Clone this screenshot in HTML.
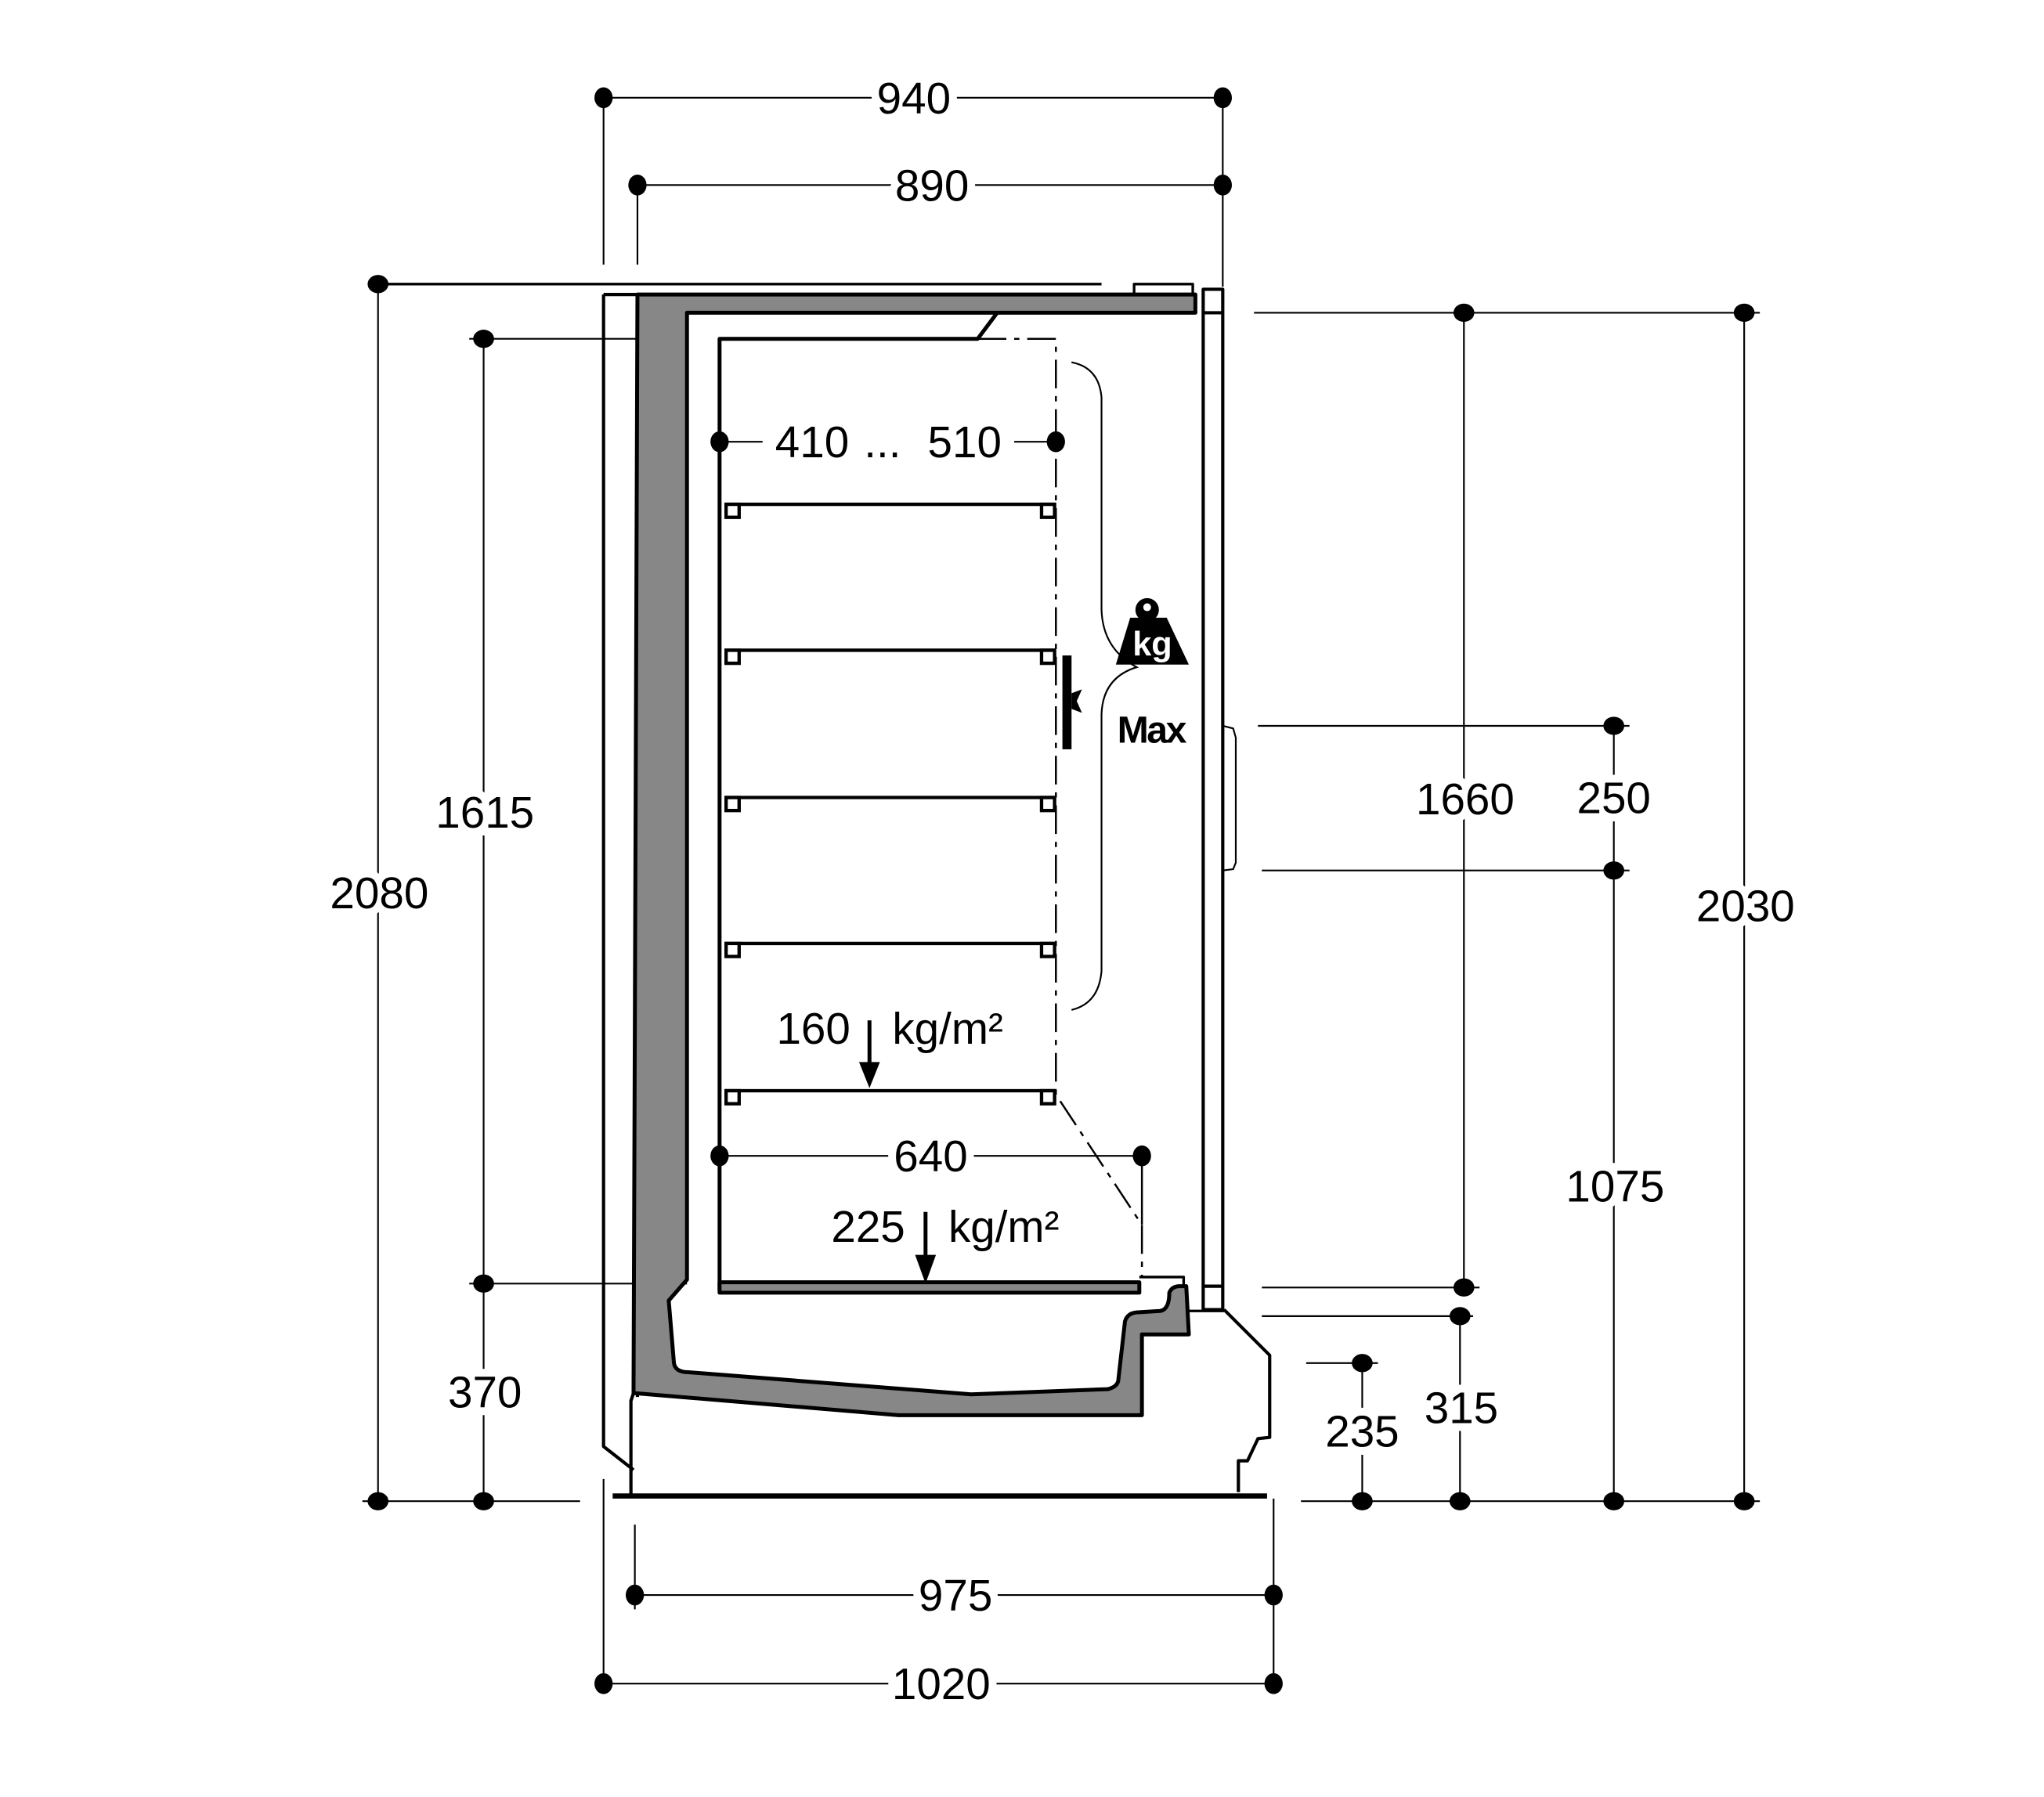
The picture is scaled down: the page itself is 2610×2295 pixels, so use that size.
<!DOCTYPE html>
<html><head><meta charset="utf-8"><style>html,body{margin:0;padding:0;background:#fff}svg{display:block}</style></head><body>
<svg width="2610" height="2295" viewBox="0 0 1568 1379" preserveAspectRatio="none" xmlns="http://www.w3.org/2000/svg">
<rect width="1568" height="1379" fill="#fff"/>
<g stroke="#000" fill="none" stroke-width="1.3">
<line x1="463" y1="75" x2="938" y2="75"/><line x1="463" y1="75" x2="463" y2="203"/><line x1="938" y1="75" x2="938" y2="220"/>
<line x1="489" y1="142" x2="938" y2="142"/><line x1="489" y1="142" x2="489" y2="203"/>
<line x1="290" y1="218" x2="845" y2="218" stroke-width="2"/>
<line x1="290" y1="218" x2="290" y2="1152"/>
<line x1="371" y1="260" x2="371" y2="1152"/>
<line x1="360" y1="260" x2="527" y2="260"/><line x1="360" y1="985" x2="527" y2="985"/>
<line x1="278" y1="1152" x2="445" y2="1152"/>
<line x1="962" y1="240" x2="1350" y2="240"/>
<line x1="1123" y1="240" x2="1123" y2="988"/>
<line x1="968" y1="988" x2="1135" y2="988"/><line x1="968" y1="1010" x2="1130" y2="1010"/>
<line x1="1120" y1="1010" x2="1120" y2="1152"/>
<line x1="1002" y1="1046" x2="1057" y2="1046"/><line x1="1045" y1="1046" x2="1045" y2="1152"/>
<line x1="965" y1="557" x2="1250" y2="557"/><line x1="968" y1="668" x2="1250" y2="668"/>
<line x1="1238" y1="557" x2="1238" y2="1152"/>
<line x1="1338" y1="240" x2="1338" y2="1152"/>
<line x1="998" y1="1152" x2="1350" y2="1152"/>
<line x1="487" y1="1224" x2="977" y2="1224"/><line x1="487" y1="1170" x2="487" y2="1235"/>
<line x1="463" y1="1292" x2="977" y2="1292"/><line x1="463" y1="1135" x2="463" y2="1300"/><line x1="977" y1="1150" x2="977" y2="1300"/>
<line x1="552" y1="339" x2="585" y2="339"/><line x1="778" y1="339" x2="810" y2="339"/>
<line x1="552" y1="887" x2="876" y2="887"/>
<path d="M938 557 L946 559 L948 566 L948 662 L946 667 L938 668"/>
<path d="M822 278 Q843 282 845 305 L845 468 Q846 498 872 512 Q846 520 845 548 L845 745 Q843 770 822 775"/>
</g>
<g stroke="#000" stroke-width="3" stroke-linejoin="round">
<path d="M463 226 L489 226 L489 1072 M463 226 L463 1110 L486 1128" fill="none" stroke-width="2.5"/>
<path d="M489 226 L917 226 L917 240 L527 240 L527 982 L513 998 L517 1046 Q518 1053 528 1053 L745 1070 L850 1066 Q858 1064 858 1058 L863 1014 Q865 1007 874 1007 L890 1006 Q897 1005 897 992 Q899 987 905 987 L910 987 L912 1024 L876 1024 L876 1086 L689 1086 L486 1069 Z" fill="#878787"/>
<path d="M486 1069 L484 1075 L484 1148 M939 1005 L974 1040 L974 1103 L965 1104 L957 1121 L950 1121 L950 1145" fill="none" stroke-width="2.5"/>
<line x1="912" y1="1006" x2="939" y2="1006" stroke-width="2"/>
<line x1="470" y1="1148" x2="972" y2="1148" stroke-width="4"/>
<rect x="870" y="218" width="45" height="8" fill="none" stroke-width="2"/>
<rect x="923" y="222" width="15" height="783" fill="none" stroke-width="2.5"/>
<line x1="923" y1="240" x2="938" y2="240" stroke-width="2.5"/><line x1="923" y1="987" x2="938" y2="987" stroke-width="2.5"/>
<path d="M552 990 L552 260 L750 260 L765 240" fill="none"/>
<rect x="552" y="984" width="322" height="8" fill="#878787"/>
<path d="M874 980 L908 980 L908 987" fill="none" stroke-width="2"/>
</g>
<g stroke="#000" fill="none" stroke-width="1.5">
<path d="M750 260 L810 260 L810 840 L876 940 L876 980" stroke-dasharray="22 6 4 6"/>
<line x1="876" y1="887" x2="876" y2="940"/>
</g>
<g stroke="#000" stroke-width="2.6" fill="#fff">
<line x1="556" y1="387" x2="810" y2="387"/><rect x="557" y="387" width="10" height="10"/><rect x="799" y="387" width="10" height="10"/>
<line x1="556" y1="499" x2="810" y2="499"/><rect x="557" y="499" width="10" height="10"/><rect x="799" y="499" width="10" height="10"/>
<line x1="556" y1="612" x2="810" y2="612"/><rect x="557" y="612" width="10" height="10"/><rect x="799" y="612" width="10" height="10"/>
<line x1="556" y1="724" x2="810" y2="724"/><rect x="557" y="724" width="10" height="10"/><rect x="799" y="724" width="10" height="10"/>
<line x1="556" y1="837" x2="810" y2="837"/><rect x="557" y="837" width="10" height="10"/><rect x="799" y="837" width="10" height="10"/>
</g>
<g stroke="#000" stroke-width="3"><line x1="667" y1="783" x2="667" y2="818"/><line x1="710" y1="930" x2="710" y2="966"/></g>
<polygon points="659,815 675,815 667,835" fill="#000"/><polygon points="702,963 718,963 710,985" fill="#000"/>
<rect x="815" y="503" width="7" height="72" fill="#000"/>
<polygon points="822,532 830,529 826,538 830,547 822,544" fill="#000"/>
<circle cx="880" cy="468" r="9" fill="#000"/><circle cx="880" cy="466" r="3" fill="#fff"/>
<polygon points="867,474 895,474 912,510 856,510" fill="#000"/>
<text x="884" y="503" font-family="Liberation Sans" font-weight="bold" font-size="26" fill="#fff" text-anchor="middle">kg</text>
<text x="883" y="570" font-family="Liberation Sans" font-weight="bold" font-size="29" fill="#000" text-anchor="middle" letter-spacing="-1.5">Max</text>
<g fill="#000">
<ellipse cx="463" cy="75" rx="7" ry="8"/><ellipse cx="938" cy="75" rx="7" ry="8"/>
<ellipse cx="489" cy="142" rx="7" ry="8"/><ellipse cx="938" cy="142" rx="7" ry="8"/>
<ellipse cx="290" cy="218" rx="8" ry="7"/><ellipse cx="290" cy="1152" rx="8" ry="7"/>
<ellipse cx="371" cy="260" rx="8" ry="7"/><ellipse cx="371" cy="985" rx="8" ry="7"/><ellipse cx="371" cy="1152" rx="8" ry="7"/>
<ellipse cx="1123" cy="240" rx="8" ry="7"/><ellipse cx="1338" cy="240" rx="8" ry="7"/><ellipse cx="1123" cy="988" rx="8" ry="7"/>
<ellipse cx="1120" cy="1010" rx="8" ry="7"/><ellipse cx="1045" cy="1046" rx="8" ry="7"/>
<ellipse cx="1238" cy="557" rx="8" ry="7"/><ellipse cx="1238" cy="668" rx="8" ry="7"/>
<ellipse cx="1045" cy="1152" rx="8" ry="7"/><ellipse cx="1120" cy="1152" rx="8" ry="7"/><ellipse cx="1238" cy="1152" rx="8" ry="7"/><ellipse cx="1338" cy="1152" rx="8" ry="7"/>
<ellipse cx="487" cy="1224" rx="7" ry="8"/><ellipse cx="977" cy="1224" rx="7" ry="8"/>
<ellipse cx="463" cy="1292" rx="7" ry="8"/><ellipse cx="977" cy="1292" rx="7" ry="8"/>
<ellipse cx="552" cy="339" rx="7" ry="8"/><ellipse cx="810" cy="339" rx="7" ry="8"/>
<ellipse cx="552" cy="887" rx="7" ry="8"/><ellipse cx="876" cy="887" rx="7" ry="8"/>
</g>
<g font-family="Liberation Sans" font-size="34" fill="#000" text-anchor="middle" stroke="#fff" stroke-width="12" paint-order="stroke">
<text x="701" y="87">940</text>
<text x="715" y="154">890</text>
<text x="291" y="697">2080</text>
<text x="372" y="635">1615</text>
<text x="372" y="1080">370</text>
<text x="1124" y="625">1660</text>
<text x="1238" y="624">250</text>
<text x="1339" y="707">2030</text>
<text x="1239" y="922">1075</text>
<text x="1121" y="1092">315</text>
<text x="1045" y="1110">235</text>
<text x="733" y="1236">975</text>
<text x="722" y="1304">1020</text>
<text x="623" y="351">410</text><text x="677" y="351">...</text><text x="740" y="351">510</text>
<text x="714" y="899">640</text>
<text x="624" y="801">160</text>
<text x="727" y="801">kg/m²</text>
<text x="666" y="953">225</text>
<text x="770" y="953">kg/m²</text>
</g>
</svg>
</body></html>
